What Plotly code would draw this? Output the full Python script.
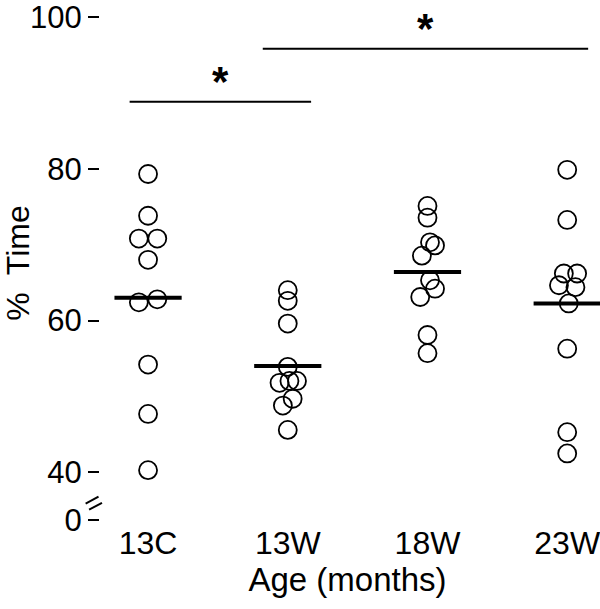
import plotly.graph_objects as go

# ---- data ----
categories = ["13C", "13W", "18W", "23W"]

vals_13C = [79.3, 73.8, 70.8, 70.8, 68.0, 62.4, 62.8, 54.2, 47.7, 40.3]
vals_13W = [64.0, 62.6, 59.6, 53.9, 51.8, 52.05, 52.05, 49.7, 48.8, 45.6]
vals_18W = [75.1, 73.55, 70.3, 69.9, 68.55, 65.3, 64.2, 63.1, 58.1, 55.7]
vals_23W = [79.85, 73.25, 66.2, 66.2, 64.65, 64.4, 62.25, 56.3, 45.3, 42.5]

# horizontal jitter (category units) of each circle, as drawn
jit_13C = [0, 0, -0.066, 0.066, 0, -0.066, 0.066, 0, 0, 0]
jit_13W = [0, 0, 0, 0, -0.059, 0.012, 0.066, 0.035, -0.035, 0]
jit_18W = [0, 0, 0.018, 0.054, -0.040, 0.018, 0.054, -0.052, 0, 0]
jit_23W = [0, 0, -0.024, 0.071, -0.059, 0.059, 0.011, 0, 0, 0]

means = [63.0, 54.0, 66.4, 62.25]

# significance brackets: (x start, x end, y, star x, star y)
sig_x0 = [-0.132, 0.821]
sig_x1 = [1.167, 3.15]
sig_y = [88.83, 95.8]
star_x = [0.517, 1.985]
star_y = [91.5, 98.4]

ytick_vals = [33.7, 40, 60, 80, 100]
ytick_text = ["0", "40", "60", "80", "100"]
break_y = [35.9, 36.8, 35.1, 36.0]

FONT = "Liberation Sans, Arial, Helvetica, sans-serif"

fig = go.Figure()

groups = [vals_13C, vals_13W, vals_18W, vals_23W]
jits = [jit_13C, jit_13W, jit_18W, jit_23W]
for i, (v, j) in enumerate(zip(groups, jits)):
    fig.add_trace(go.Scatter(
        x=[i + d for d in j], y=v, mode="markers",
        marker=dict(symbol="circle-open", size=18, color="black",
                    line=dict(width=1.8, color="black")),
        showlegend=False, hoverinfo="y", cliponaxis=False))

fig.add_trace(go.Scatter(
    x=list(range(len(categories))), y=means, mode="markers",
    marker=dict(symbol="line-ew", size=48, color="black",
                line=dict(width=4, color="black")),
    showlegend=False, cliponaxis=False))

shapes = []
for a, b, y in zip(sig_x0, sig_x1, sig_y):
    shapes.append(dict(type="line", xref="x", yref="y", x0=a, x1=b, y0=y, y1=y,
                       line=dict(color="black", width=2)))
# axis break marks "//"
shapes.append(dict(type="line", xref="paper", yref="y", x0=-0.029, x1=-0.003,
                   y0=break_y[0], y1=break_y[1], line=dict(color="black", width=2)))
shapes.append(dict(type="line", xref="paper", yref="y", x0=-0.022, x1=0.004,
                   y0=break_y[2], y1=break_y[3], line=dict(color="black", width=2)))

annotations = []
for sx, sy in zip(star_x, star_y):
    annotations.append(dict(x=sx, y=sy, xref="x", yref="y", text="<b>*</b>",
                            showarrow=False, font=dict(size=42, color="black", family=FONT)))

fig.update_layout(
    width=600, height=609,
    margin=dict(l=98, r=0, t=0, b=88),
    paper_bgcolor="white", plot_bgcolor="white",
    font=dict(family=FONT, size=32, color="black"),
    shapes=shapes, annotations=annotations,
    xaxis=dict(range=[-0.344, 3.199], tickvals=list(range(len(categories))),
               ticktext=categories, showgrid=False, zeroline=False, showline=False,
               ticks="", tickfont=dict(size=32), ticklabeloverflow="allow",
               title=dict(text="Age (months)", font=dict(size=33), standoff=0)),
    yaxis=dict(range=[33.6, 101.56], tickvals=ytick_vals, ticktext=ytick_text,
               showgrid=False, zeroline=False, showline=False,
               ticks="outside", ticklen=11, tickwidth=2, tickcolor="black",
               tickfont=dict(size=31), ticklabeloverflow="allow",
               title=dict(text="%  Time", font=dict(size=32), standoff=8)),
)

fig.write_html("out.html", config={"displayModeBar": False},
               post_script="document.body.style.margin='0';document.body.style.overflow='hidden';")
